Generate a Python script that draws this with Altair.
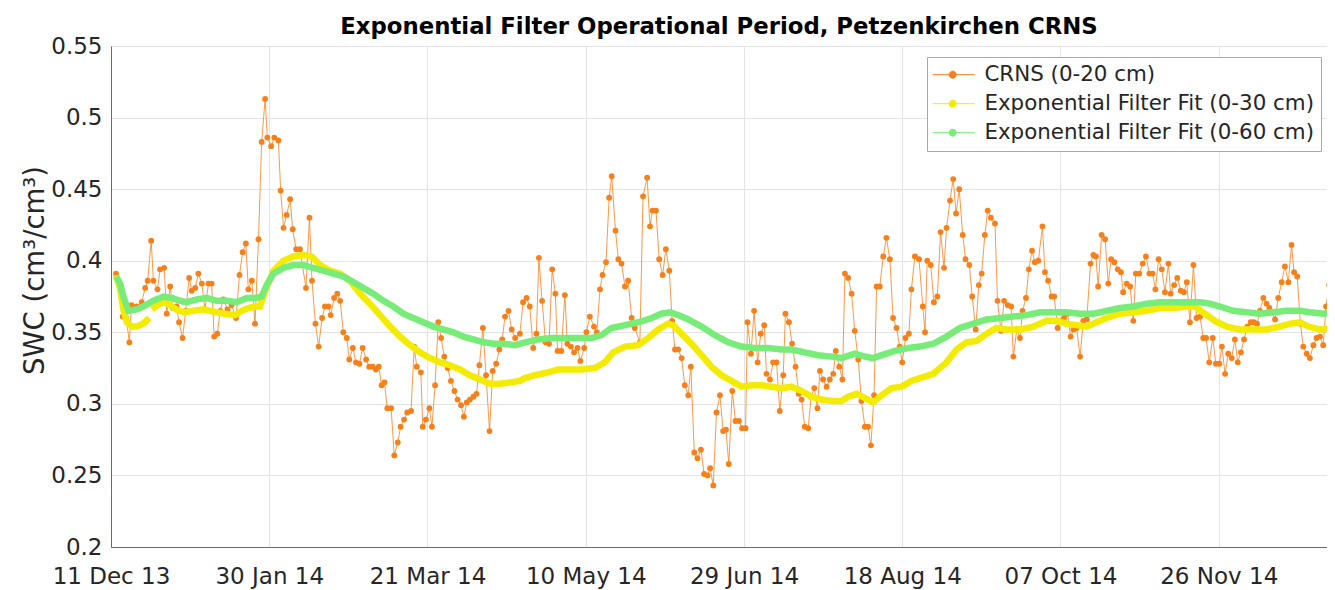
import altair as alt
import pandas as pd

START = "2013-12-11"
X_END = "2014-12-30T05:00:00"
TICK_DATES = ["2013-12-11", "2014-01-30", "2014-03-21", "2014-05-10",
              "2014-06-29", "2014-08-18", "2014-10-07", "2014-11-26"]
Y_TICKS = [0.2, 0.25, 0.3, 0.35, 0.4, 0.45, 0.5, 0.55]
SERIES = ["CRNS (0-20 cm)", "Exponential Filter Fit (0-30 cm)", "Exponential Filter Fit (0-60 cm)"]
COLORS = ["#F7801A", "#F4EC00", "#78EC78"]
TITLE = "Exponential Filter Operational Period, Petzenkirchen CRNS"
Y_TITLE = "SWC (cm³/cm³)"

# days since 11 Dec 2013
crns_day = [
    1.6, 3.7, 4.8, 5.8, 6.5, 8.1, 9.7, 10.8, 11.6, 12.7, 13.4, 14.7, 15.5, 16.8, 17.6, 18.7, 19.5, 20.7,
    21.5, 22.6, 23.6, 24.7, 25.5, 26.6, 27.6, 28.7, 29.7, 30.8, 31.8, 32.6, 33.6, 34.5, 35.5, 36.8, 38.1,
    39.5, 40.6, 41.6, 42.6, 43.4, 44.5, 45.5, 46.6, 47.6, 48.7, 49.4, 50.6, 51.6, 52.9, 53.6, 54.5, 55.5,
    56.6, 57.4, 58.5, 59.7, 61.6, 62.7, 63.5, 64.6, 65.6, 66.7, 67.6, 68.7, 69.4, 70.5, 71.5, 72.4, 73.4,
    74.5, 75.3, 76.4, 77.4, 78.5, 79.5, 80.6, 81.6, 82.7, 83.7, 84.6, 85.5, 86.4, 87.3, 88.5, 89.5, 90.6,
    91.5, 92.6, 93.6, 94.8, 95.8, 96.6, 97.9, 98.5, 99.5, 100.6, 101.4, 102.4, 103.4, 104.3, 105.3, 106.4,
    107.4, 108.5, 109.5, 110.6, 111.5, 112.4, 113.4, 114.5, 115.5, 116.4, 117.5, 118.5, 119.6, 120.6,
    121.7, 122.7, 123.6, 124.5, 125.6, 126.6, 127.7, 129.2, 130.2, 131.3, 132.3, 133.4, 134.4, 135.2,
    136.2, 137.3, 138.4, 139.4, 140.4, 141.1, 142.3, 143.4, 144.2, 145.3, 146.3, 147.4, 148.3, 149.5,
    150.2, 151.3, 152.6, 153.5, 154.5, 155.3, 156.4, 157.4, 158.2, 159.4, 160.3, 161.3, 162.4, 163.4,
    164.5, 165.5, 167.1, 168.1, 169.4, 170.3, 171.1, 172.2, 173.2, 174.3, 175.3, 176.4, 177.3, 178.2,
    179.2, 180.3, 181.3, 182.4, 183.2, 184.3, 185.3, 186.4, 187.4, 188.5, 189.3, 190.3, 191.3, 192.4,
    193.4, 194.3, 195.2, 196.3, 197.3, 198.4, 199.4, 200.5, 201.1, 202.2, 203.2, 204.3, 205.3, 206.4,
    207.1, 208.2, 209.2, 210.3, 211.3, 212.4, 213.1, 214.2, 215.2, 216.3, 217.3, 218.2, 219.2, 220.3,
    221.2, 222.2, 223.2, 224.0, 225.0, 226.1, 227.1, 228.2, 229.0, 230.1, 231.1, 231.9, 232.9, 234.0,
    235.0, 236.1, 237.1, 238.2, 239.2, 240.1, 241.1, 241.9, 242.9, 244.0, 245.0, 246.1, 247.1, 248.2,
    249.2, 250.0, 251.0, 252.1, 252.9, 254.0, 255.3, 256.5, 257.2, 257.9, 259.0, 260.0, 261.1, 262.1,
    263.2, 264.0, 265.1, 266.1, 267.0, 268.0, 269.1, 270.0, 271.2, 272.1, 273.2, 274.2, 275.1, 276.1,
    277.0, 278.0, 279.3, 280.1, 281.2, 282.2, 283.3, 284.4, 285.1, 286.2, 287.2, 288.0, 289.1, 290.0,
    291.0, 291.9, 293.0, 294.3, 295.1, 296.1, 297.2, 298.0, 299.1, 300.1, 301.1, 302.2, 303.2, 304.1,
    305.1, 306.2, 307.2, 308.3, 309.5, 310.4, 311.2, 311.9, 313.0, 314.1, 315.1, 316.0, 317.0, 318.1,
    319.1, 319.8, 320.9, 322.0, 323.0, 323.8, 324.9, 326.0, 327.0, 328.1, 329.1, 330.0, 331.0, 332.0,
    333.0, 334.1, 334.8, 335.9, 336.9, 338.0, 339.0, 339.9, 340.9, 342.0, 343.0, 344.1, 345.1, 346.0,
    347.0, 348.1, 349.1, 350.2, 351.0, 352.0, 353.0, 354.1, 355.1, 356.0, 357.0, 358.0, 359.0, 360.1,
    361.1, 362.1, 363.0, 364.1, 365.1, 366.0, 367.8, 368.8, 369.9, 370.9, 372.0, 373.0, 373.8, 374.8,
    375.8, 376.7, 377.8, 378.8, 379.9, 380.9, 382.0, 383.0, 383.9, 384.9, 386.0,
]
crns_swc = [
    0.391, 0.361, 0.360, 0.343, 0.369, 0.368, 0.371, 0.381, 0.386, 0.414, 0.386, 0.380, 0.394, 0.395, 0.363, 0.382, 0.367, 0.368,
    0.357, 0.346, 0.365, 0.388, 0.379, 0.381, 0.391, 0.384, 0.366, 0.384, 0.384, 0.347, 0.349, 0.365, 0.373, 0.366, 0.369,
    0.360, 0.390, 0.406, 0.412, 0.380, 0.386, 0.356, 0.415, 0.483, 0.513, 0.486, 0.480, 0.486, 0.484, 0.449, 0.423, 0.432,
    0.443, 0.422, 0.408, 0.408, 0.381, 0.430, 0.386, 0.356, 0.340, 0.360, 0.368, 0.368, 0.362, 0.374, 0.377, 0.372, 0.350,
    0.346, 0.331, 0.339, 0.329, 0.328, 0.339, 0.331, 0.326, 0.326, 0.324, 0.326, 0.313, 0.315, 0.297, 0.297, 0.264, 0.273,
    0.284, 0.289, 0.294, 0.295, 0.340, 0.326, 0.322, 0.284, 0.289, 0.297, 0.284, 0.313, 0.357, 0.346, 0.333, 0.325,
    0.316, 0.309, 0.303, 0.299, 0.291, 0.301, 0.303, 0.305, 0.307, 0.327, 0.353, 0.320, 0.281, 0.323,
    0.328, 0.338, 0.345, 0.361, 0.365, 0.352, 0.346, 0.349, 0.371, 0.374, 0.368, 0.339, 0.349, 0.402,
    0.372, 0.343, 0.342, 0.394, 0.377, 0.337, 0.337, 0.376, 0.342, 0.340, 0.336, 0.339, 0.330, 0.339,
    0.350, 0.361, 0.354, 0.350, 0.380, 0.390, 0.399, 0.444, 0.459, 0.421, 0.401, 0.398, 0.382, 0.386,
    0.360, 0.353, 0.343, 0.445, 0.458, 0.424, 0.435, 0.435, 0.401, 0.390, 0.408, 0.393, 0.358, 0.338,
    0.338, 0.332, 0.313, 0.306, 0.326, 0.266, 0.262, 0.268, 0.251, 0.250, 0.255, 0.243, 0.294, 0.306,
    0.281, 0.282, 0.258, 0.309, 0.288, 0.288, 0.283, 0.283, 0.357, 0.335, 0.365, 0.329, 0.349, 0.355,
    0.321, 0.317, 0.329, 0.329, 0.295, 0.320, 0.363, 0.357, 0.342, 0.326, 0.307, 0.303, 0.284, 0.283,
    0.305, 0.311, 0.297, 0.323, 0.317, 0.312, 0.317, 0.321, 0.337, 0.326, 0.317, 0.391, 0.388, 0.377,
    0.351, 0.331, 0.302, 0.284, 0.284, 0.271, 0.306, 0.382, 0.382, 0.403, 0.416, 0.401, 0.360, 0.353,
    0.340, 0.329, 0.346, 0.349, 0.380, 0.403, 0.401, 0.368, 0.350, 0.400, 0.397, 0.371, 0.375, 0.420,
    0.395, 0.423, 0.442, 0.457, 0.433, 0.450, 0.418, 0.401, 0.397, 0.375, 0.352, 0.383, 0.391, 0.418,
    0.435, 0.430, 0.426, 0.372, 0.351, 0.372, 0.369, 0.368, 0.333, 0.352, 0.346, 0.365, 0.374, 0.394,
    0.407, 0.399, 0.400, 0.424, 0.392, 0.386, 0.375, 0.375, 0.353, 0.358, 0.360, 0.363, 0.347, 0.352,
    0.353, 0.333, 0.358, 0.359, 0.398, 0.404, 0.403, 0.382, 0.418, 0.415, 0.384, 0.401, 0.399, 0.394,
    0.392, 0.378, 0.384, 0.382, 0.358, 0.391, 0.391, 0.398, 0.403, 0.391, 0.391, 0.380, 0.401, 0.394,
    0.378, 0.398, 0.377, 0.383, 0.388, 0.379, 0.378, 0.385, 0.357, 0.397, 0.360, 0.361, 0.346, 0.346,
    0.329, 0.346, 0.328, 0.328, 0.340, 0.321, 0.335, 0.332, 0.345, 0.329, 0.336, 0.345, 0.354, 0.357,
    0.357, 0.356, 0.365, 0.374, 0.370, 0.367, 0.359, 0.374, 0.385, 0.396, 0.385, 0.411, 0.392, 0.389,
    0.356, 0.340, 0.335, 0.332, 0.341, 0.346, 0.347, 0.341, 0.368, 0.383, 0.405,
]

fit30_day = [
    1.6, 2.9, 3.9, 5.0, 6.5, 8.1, 10.2, 12.1,
    12.9, 15.5, 17.1, 19.2, 21.3, 23.4, 26.0, 29.2, 31.3, 33.4, 36.0, 39.2, 41.3, 43.4, 46.0, 47.1, 48.7,
    51.3, 54.5, 57.6, 60.8, 63.4, 66.1, 69.2, 72.4, 75.5, 78.7, 81.8, 85.0, 88.2, 91.3, 94.5, 97.6, 100.8,
    104.0, 107.1, 110.3, 113.4, 116.6, 119.8, 122.9, 126.1, 129.2, 130.8, 133.9, 138.1, 141.3, 144.4,
    148.7, 152.9, 156.0, 158.7, 162.4, 166.6, 169.7, 172.9, 176.0, 177.6, 180.3, 183.4, 186.6, 189.7,
    192.9, 196.1, 199.2, 202.4, 205.5, 208.7, 211.9, 215.0, 218.2, 221.3, 224.5, 227.7, 230.8, 232.9,
    235.6, 238.2, 240.8, 243.5, 246.6, 249.8, 252.9, 255.6, 259.8, 264.0, 267.2, 270.3, 273.5, 276.7,
    279.8, 283.0, 287.2, 291.4, 295.6, 298.8, 302.0, 305.1, 308.3, 311.4, 314.6, 318.8, 323.0, 327.2,
    331.4, 335.6, 339.9, 342.5, 345.6, 348.8, 352.5, 356.7, 360.9, 365.1, 369.3, 372.5, 375.7, 378.3,
    382.0, 386.2,
]
fit30_swc = [
    0.390, 0.380, 0.366, 0.357, 0.354, 0.354, 0.356, 0.360,
    0.366, 0.370, 0.371, 0.368, 0.365, 0.364, 0.365, 0.366, 0.365, 0.364, 0.363, 0.362, 0.365, 0.367, 0.368, 0.368, 0.379,
    0.393, 0.400, 0.403, 0.404, 0.403, 0.397, 0.393, 0.391, 0.386, 0.377, 0.370, 0.362, 0.354, 0.347, 0.341, 0.336, 0.332,
    0.329, 0.327, 0.324, 0.320, 0.317, 0.314, 0.314, 0.315, 0.316, 0.318, 0.320, 0.322, 0.324, 0.324,
    0.324, 0.325, 0.329, 0.336, 0.340, 0.341, 0.346, 0.352, 0.356, 0.355, 0.349, 0.342, 0.334, 0.326,
    0.320, 0.316, 0.312, 0.313, 0.313, 0.312, 0.311, 0.312, 0.309, 0.305, 0.303, 0.302, 0.302, 0.305,
    0.307, 0.304, 0.301, 0.306, 0.311, 0.312, 0.316, 0.318, 0.321, 0.329, 0.338, 0.343, 0.344, 0.349,
    0.353, 0.352, 0.352, 0.354, 0.358, 0.358, 0.356, 0.355, 0.354, 0.357, 0.360, 0.363, 0.364, 0.365,
    0.367, 0.367, 0.368, 0.368, 0.363, 0.358, 0.354, 0.352, 0.352, 0.352, 0.354, 0.356, 0.357, 0.354,
    0.352, 0.353,
]
fit30_gap_day = 12.5

fit60_day = [
    1.6, 2.9, 3.9, 5.5, 8.1, 10.2, 13.4, 16.6, 19.2, 21.8, 23.9, 27.1, 30.2, 33.4, 36.6, 39.7, 42.9, 46.0,
    47.6, 49.2, 51.3, 54.5, 57.6, 60.8, 63.9, 67.1, 70.3, 73.4, 76.6, 79.7, 82.9, 86.1, 89.2, 92.4, 95.5,
    98.7, 101.9, 105.0, 108.2, 111.3, 114.5, 117.7, 120.8, 124.0, 127.6, 130.8, 135.0, 139.2, 143.4,
    147.6, 151.8, 155.0, 158.1, 162.4, 166.6, 170.8, 173.9, 176.6, 179.2, 182.4, 186.6, 190.8, 195.0,
    199.2, 203.4, 207.6, 211.9, 215.0, 219.2, 223.4, 227.7, 230.8, 235.0, 238.2, 240.8, 243.5, 247.7,
    251.9, 255.6, 259.8, 264.0, 268.2, 272.5, 276.7, 280.9, 285.1, 289.3, 293.5, 297.7, 301.9, 306.2,
    310.4, 314.6, 318.8, 323.0, 327.2, 331.4, 335.6, 339.9, 344.1, 347.2, 350.4, 354.6, 358.8, 363.0,
    367.2, 371.4, 375.7, 378.8, 383.0, 386.2,
]
fit60_swc = [
    0.389, 0.384, 0.375, 0.365, 0.366, 0.368, 0.372, 0.375, 0.374, 0.372, 0.371, 0.373, 0.374, 0.372, 0.372, 0.371, 0.374, 0.374,
    0.375, 0.383, 0.391, 0.395, 0.397, 0.397, 0.395, 0.393, 0.391, 0.389, 0.385, 0.381, 0.377, 0.372, 0.368, 0.363, 0.360,
    0.357, 0.354, 0.352, 0.350, 0.347, 0.345, 0.343, 0.342, 0.342, 0.341, 0.343, 0.345, 0.346, 0.346,
    0.346, 0.346, 0.348, 0.353, 0.355, 0.357, 0.360, 0.363, 0.364, 0.362, 0.359, 0.354, 0.348, 0.343,
    0.340, 0.339, 0.339, 0.338, 0.338, 0.336, 0.334, 0.333, 0.332, 0.335, 0.333, 0.332, 0.334, 0.337,
    0.339, 0.340, 0.342, 0.347, 0.353, 0.356, 0.359, 0.360, 0.361, 0.362, 0.364, 0.364, 0.364, 0.363,
    0.363, 0.365, 0.367, 0.368, 0.370, 0.371, 0.371, 0.371, 0.371, 0.370, 0.368, 0.365, 0.364, 0.363,
    0.364, 0.365, 0.365, 0.364, 0.363, 0.364,
]


def to_dates(days):
    return pd.Timestamp(START) + pd.to_timedelta(days, unit="D")


def dt(s):
    t = pd.Timestamp(s)
    return alt.DateTime(year=t.year, month=t.month, date=t.day, hours=t.hour, minutes=t.minute)


crns_df = pd.DataFrame({"date": to_dates(crns_day), "swc": crns_swc, "series": SERIES[0]})
fit30_df = pd.DataFrame({"date": to_dates(fit30_day), "swc": fit30_swc, "series": SERIES[1],
                         "segment": [0 if d < fit30_gap_day else 1 for d in fit30_day]})
fit60_df = pd.DataFrame({"date": to_dates(fit60_day), "swc": fit60_swc, "series": SERIES[2]})

FONT = "DejaVu Sans"
TXT = "#262626"

x_enc = alt.X(
    "date:T",
    scale=alt.Scale(domain=[dt(START), dt(X_END)]),
    axis=alt.Axis(
        values=[dt(s) for s in TICK_DATES], format="%d %b %y", title=None,
        labelFont=FONT, labelFontSize=23, labelColor=TXT, labelPadding=18,
        ticks=False, labelOverlap=False, labelFlush=False,
        grid=True, gridColor="#e4e4e4", gridWidth=1,
        domainColor="#6a6a6a", domainWidth=1,
    ),
)
y_enc = alt.Y(
    "swc:Q",
    scale=alt.Scale(domain=[0.2, 0.55], nice=False, zero=False),
    axis=alt.Axis(
        values=Y_TICKS, format="~g", title=Y_TITLE,
        labelFont=FONT, labelFontSize=23, labelColor=TXT, labelPadding=9,
        ticks=False, titleFont=FONT, titleFontSize=27.5, titleFontWeight="normal",
        titleColor=TXT, titlePadding=1, titleY=224,
        grid=True, gridColor="#e4e4e4", gridWidth=1,
        domainColor="#6a6a6a", domainWidth=1,
    ),
)

SYMBOL = "M-1.2,0H3M1.15,0A0.35,0.35,0,1,1,0.45,0A0.35,0.35,0,1,1,1.15,0Z"
legend = alt.Legend(
    title=None, orient="none", legendX=816, legendY=11,
    symbolType=SYMBOL, symbolSize=400, symbolStrokeWidth=1,
    labelFont=FONT, labelFontSize=21.4, labelColor=TXT, labelOffset=29, labelLimit=0,
    rowPadding=6, padding=7, fillColor="white", strokeColor="#a8a8a8",
)
color_scale = alt.Scale(domain=SERIES, range=COLORS)
stroke_enc = alt.Stroke("series:N", scale=color_scale, legend=legend)
fill_enc = alt.Fill("series:N", scale=color_scale, legend=legend)

crns_line = alt.Chart(crns_df).mark_line(strokeWidth=0.8, clip=True).encode(
    x=x_enc, y=y_enc, stroke=stroke_enc)
crns_pts = alt.Chart(crns_df).mark_point(filled=True, size=34, opacity=1, clip=True).encode(
    x=x_enc, y=y_enc, fill=fill_enc)
fit30_line = alt.Chart(fit30_df).mark_line(strokeWidth=6.5, clip=True).encode(
    x=x_enc, y=y_enc, stroke=stroke_enc, detail="segment:N")
fit60_line = alt.Chart(fit60_df).mark_line(strokeWidth=6.5, clip=True).encode(
    x=x_enc, y=y_enc, stroke=stroke_enc)

chart = alt.layer(crns_line, crns_pts, fit30_line, fit60_line).properties(
    width=1216, height=501,
    title=alt.TitleParams(TITLE, font=FONT, fontSize=22.8, fontWeight="bold", color="black",
                          anchor="middle", offset=-4, frame="group"),
    padding={"left": 103, "top": 38, "right": 0, "bottom": 45},
    autosize=alt.AutoSizeParams(type="none"),
).configure(font=FONT).configure_view(stroke="#9a9a9a", strokeWidth=1)

chart.save("out.html", embed_options={"renderer": "svg", "actions": False})
